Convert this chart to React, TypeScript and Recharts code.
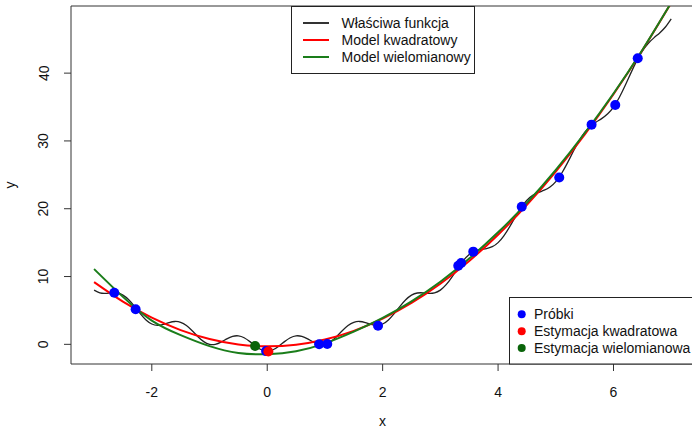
import React from "react";
import { ComposedChart, Line, Scatter, XAxis, YAxis, ReferenceArea } from "recharts";

// true function, read every 0.1 along x
const curveX = [
  -3.0, -2.9, -2.8, -2.7, -2.6, -2.5, -2.4, -2.3, -2.2, -2.1,
  -2.0, -1.9, -1.8, -1.7, -1.6, -1.5, -1.4, -1.3, -1.2, -1.1,
  -1.0, -0.9, -0.8, -0.7, -0.6, -0.5, -0.4, -0.3, -0.2, -0.1,
  0.0, 0.1, 0.2, 0.3, 0.4, 0.5, 0.6, 0.7, 0.8, 0.9,
  1.0, 1.1, 1.2, 1.3, 1.4, 1.5, 1.6, 1.7, 1.8, 1.9,
  2.0, 2.1, 2.2, 2.3, 2.4, 2.5, 2.6, 2.7, 2.8, 2.9,
  3.0, 3.1, 3.2, 3.3, 3.4, 3.5, 3.6, 3.7, 3.8, 3.9,
  4.0, 4.1, 4.2, 4.3, 4.4, 4.5, 4.6, 4.7, 4.8, 4.9,
  5.0, 5.1, 5.2, 5.3, 5.4, 5.5, 5.6, 5.7, 5.8, 5.9,
  6.0, 6.1, 6.2, 6.3, 6.4, 6.5, 6.6, 6.7, 6.8, 6.9,
  7.0,
];
const trueY = [
  8.0, 7.6, 7.53, 7.6, 7.57, 7.25, 6.57, 5.6, 4.53, 3.6,
  3.0, 2.8, 2.93, 3.2, 3.37, 3.25, 2.77, 2.0, 1.13, 0.4,
  0.0, 0.0, 0.33, 0.8, 1.17, 1.25, 0.97, 0.4, -0.27, -0.8,
  -1.0, -0.8, -0.27, 0.4, 0.97, 1.25, 1.17, 0.8, 0.33, 0.0,
  0.0, 0.4, 1.13, 2.0, 2.77, 3.25, 3.37, 3.2, 2.93, 2.8,
  3.0, 3.6, 4.53, 5.6, 6.57, 7.25, 7.57, 7.6, 7.53, 7.6,
  8.0, 8.8, 9.93, 11.2, 12.37, 13.25, 13.77, 14.0, 14.13, 14.4,
  15.0, 16.0, 17.33, 18.8, 20.17, 21.25, 21.97, 22.4, 22.73, 23.2,
  24.0, 25.2, 26.73, 28.4, 29.97, 31.25, 32.17, 32.8, 33.33, 34.0,
  35.0, 36.4, 38.13, 40.0, 41.77, 43.25, 44.37, 45.2, 45.93, 46.8,
  48.0,
];

// fitted models, read every 0.5
const modelX = [-3, -2.5, -2, -1.5, -1, -0.5, 0, 0.5, 1, 1.5, 2, 2.5, 3, 3.5, 4, 4.5, 5, 5.5, 6, 6.5, 7];
const quadY = [9.18, 6.3, 3.94, 2.1, 0.78, -0.02, -0.3, -0.06, 0.7, 1.98, 3.78, 6.1, 8.94, 12.3, 16.17, 20.57, 25.49, 30.93, 36.89, 43.37, 50.37];
const polyY = [11.1, 7.0, 3.5, 1.35, -0.27, -1.27, -1.45, -1.01, 0.15, 1.88, 3.9, 6.35, 9.24, 12.65, 16.52, 20.87, 25.74, 31.13, 36.99, 43.42, 50.4];

// samples
const sampleX = [-2.65, -2.28, -0.02, 0.9, 1.04, 1.92, 3.31, 3.36, 3.57, 4.41, 5.06, 5.62, 6.03, 6.42];
const sampleY = [7.62, 5.17, -1.0, 0.0, 0.05, 2.75, 11.6, 12.0, 13.67, 20.3, 24.6, 32.4, 35.3, 42.2];

// minimum estimates
const quadEstX = [0.02];
const quadEstY = [-1.05];
const polyEstX = [-0.21];
const polyEstY = [-0.25];

const xTicks = [-2, 0, 2, 4, 6];
const yTicks = [0, 10, 20, 30, 40];

const FONT = "'Liberation Sans', Arial, Helvetica, sans-serif";
const GREEN_LINE = "#1a7d1a";
const GREEN_DOT = "#0a640a";

const zip = (xs: number[], ys: number[]) => xs.map((x, i) => ({ x, y: ys[i] }));

const trueData = zip(curveX, trueY);
const quadData = zip(modelX, quadY);
const polyData = zip(modelX, polyY);
const sampleData = zip(sampleX, sampleY);
const quadEstData = zip(quadEstX, quadEstY);
const polyEstData = zip(polyEstX, polyEstY);

const dot = (color: string) => (props: any) => (
  <circle cx={props.cx} cy={props.cy} r={5} fill={color} />
);

const XTick = ({ x, payload }: any) => (
  <text x={x} y={397} textAnchor="middle" fontSize={14} fontFamily={FONT} fill="#111">
    {payload.value}
  </text>
);

const YTick = ({ y, payload }: any) => (
  <text
    x={48.5}
    y={y}
    transform={`rotate(-90, 48.5, ${y})`}
    textAnchor="middle"
    fontSize={14}
    fontFamily={FONT}
    fill="#111"
  >
    {payload.value}
  </text>
);

export default function App() {
  return (
    <div
      style={{
        position: "absolute",
        left: 0,
        top: 0,
        width: 692,
        height: 430,
        overflow: "hidden",
        background: "#fff",
        fontFamily: FONT,
      }}
    >
      <ComposedChart width={700} height={430} margin={{ top: 6, right: 5.7, left: 0, bottom: 0 }}>
        <XAxis
          type="number"
          dataKey="x"
          domain={[-3.4, 7.4]}
          ticks={xTicks}
          allowDataOverflow
          height={66}
          axisLine={false}
          tickLine={{ stroke: "#333" }}
          tickSize={7}
          tick={<XTick />}
        />
        <YAxis
          type="number"
          dataKey="y"
          domain={[-2.9, 49.9]}
          ticks={yTicks}
          allowDataOverflow
          width={71}
          axisLine={false}
          tickLine={{ stroke: "#333" }}
          tickSize={7}
          tick={<YTick />}
        />
        <ReferenceArea
          x1={-3.4}
          x2={7.4}
          y1={-2.9}
          y2={49.9}
          fill="none"
          fillOpacity={0}
          stroke="#333"
          strokeWidth={1}
          ifOverflow="visible"
        />
        <Line data={trueData} dataKey="y" type="natural" stroke="#222" strokeWidth={1.3} dot={false} activeDot={false} isAnimationActive={false} />
        <Line data={quadData} dataKey="y" type="natural" stroke="#ff0000" strokeWidth={2} dot={false} activeDot={false} isAnimationActive={false} />
        <Line data={polyData} dataKey="y" type="natural" stroke={GREEN_LINE} strokeWidth={2} dot={false} activeDot={false} isAnimationActive={false} />
        <Scatter data={sampleData} dataKey="y" shape={dot("#0000ff")} isAnimationActive={false} />
        <Scatter data={quadEstData} dataKey="y" shape={dot("#ff0000")} isAnimationActive={false} />
        <Scatter data={polyEstData} dataKey="y" shape={dot(GREEN_DOT)} isAnimationActive={false} />
      </ComposedChart>

      <svg
        width={692}
        height={430}
        style={{ position: "absolute", left: 0, top: 0, pointerEvents: "none" }}
        fontFamily={FONT}
        fontSize={14}
      >
        {/* axis titles */}
        <text x={382.5} y={426} textAnchor="middle" fill="#111">x</text>
        <text x={15} y={185} transform="rotate(-90, 15, 185)" textAnchor="middle" fill="#111">y</text>

        {/* top legend */}
        <rect x={291.5} y={6.5} width={183} height={67} fill="#fff" stroke="#222" />
        <line x1={303} x2={329} y1={23} y2={23} stroke="#333" strokeWidth={2} />
        <line x1={303} x2={329} y1={40} y2={40} stroke="#ff0000" strokeWidth={2} />
        <line x1={303} x2={329} y1={57} y2={57} stroke={GREEN_LINE} strokeWidth={2} />
        <text x={341.5} y={28} fill="#111">Właściwa funkcja</text>
        <text x={341.5} y={45} fill="#111">Model kwadratowy</text>
        <text x={341.5} y={62} fill="#111">Model wielomianowy</text>

        {/* bottom legend */}
        <rect x={509.5} y={297.5} width={200} height={66.5} fill="#fff" stroke="#222" />
        <circle cx={521.7} cy={314.3} r={4} fill="#0000ff" />
        <circle cx={521.7} cy={331.3} r={4} fill="#ff0000" />
        <circle cx={521.7} cy={348} r={4} fill={GREEN_DOT} />
        <text x={534} y={319.3} fill="#111">Próbki</text>
        <text x={534} y={336.3} fill="#111">Estymacja kwadratowa</text>
        <text x={534} y={353} fill="#111">Estymacja wielomianowa</text>
      </svg>
    </div>
  );
}
